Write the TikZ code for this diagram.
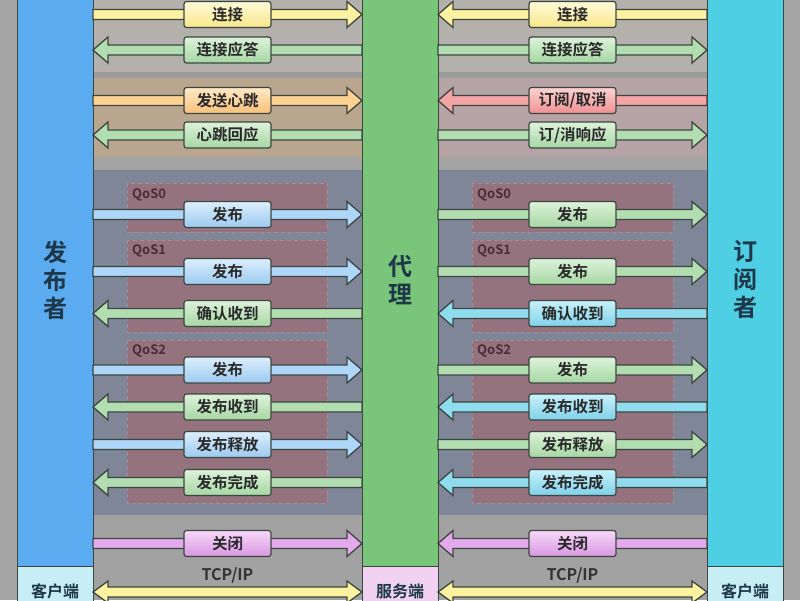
\documentclass[tikz,border=0pt]{standalone}
\usepackage{fontspec}
\setmainfont{Noto Sans CJK SC}[BoldFont={Noto Sans CJK SC Bold}]
\usetikzlibrary{calc}
\definecolor{stripgray}{HTML}{A6A6A6}
\definecolor{bandTop}{HTML}{B4B0AB}
\definecolor{bandSep}{HTML}{9C9C9C}
\definecolor{heatL}{HTML}{B9A68F}
\definecolor{heatR}{HTML}{B6A3A5}
\definecolor{bandSepB}{HTML}{A4A4A4}
\definecolor{slate}{HTML}{7E8698}
\definecolor{bandBot}{HTML}{A2A2A2}
\definecolor{qosfill}{HTML}{94727E}
\definecolor{qosline}{HTML}{AA8A96}
\definecolor{qostext}{HTML}{4E2A38}
\definecolor{outl}{HTML}{3C4640}
\definecolor{pubblue}{HTML}{5AABF0}
\definecolor{brkgreen}{HTML}{79C579}
\definecolor{subcyan}{HTML}{4FCFE3}
\definecolor{clicyan}{HTML}{C8EEF5}
\definecolor{srvpink}{HTML}{F2D2F2}
\definecolor{coltext}{HTML}{1E384A}
\definecolor{lbltext}{HTML}{2A2A2A}
\definecolor{tcptext}{HTML}{333333}
\definecolor{aY}{HTML}{FDF2A0}\definecolor{yT}{HTML}{FFFBDA}\definecolor{yB}{HTML}{F8E68A}
\definecolor{aG}{HTML}{B2DDB0}\definecolor{gT}{HTML}{DDF2DA}\definecolor{gB}{HTML}{A6D7A3}
\definecolor{aO}{HTML}{FCD192}\definecolor{oT}{HTML}{FFE9C6}\definecolor{oB}{HTML}{F9C07A}
\definecolor{aR}{HTML}{F4A4A4}\definecolor{rT}{HTML}{FCD2D2}\definecolor{rB}{HTML}{EF9090}
\definecolor{aB}{HTML}{ADD6F8}\definecolor{bT}{HTML}{DCEEFD}\definecolor{bB}{HTML}{9CCAF0}
\definecolor{aC}{HTML}{90DCEF}\definecolor{cT}{HTML}{C8F1FA}\definecolor{cB}{HTML}{7FD1EA}
\definecolor{aP}{HTML}{E4A8EC}\definecolor{pT}{HTML}{F7D8F9}\definecolor{pB}{HTML}{D796E0}
\newcommand\ArrR[3]{\filldraw[arr,fill=#3] ($(#1)+(0,-5)$) -- ($(#2)+(-15,-5)$) -- ($(#2)+(-15,-13)$) -- (#2) -- ($(#2)+(-15,13)$) -- ($(#2)+(-15,5)$) -- ($(#1)+(0,5)$) -- cycle;}
\newcommand\ArrL[3]{\filldraw[arr,fill=#3] ($(#2)+(0,-5)$) -- ($(#1)+(15,-5)$) -- ($(#1)+(15,-13)$) -- (#1) -- ($(#1)+(15,13)$) -- ($(#1)+(15,5)$) -- ($(#2)+(0,5)$) -- cycle;}
\newcommand\ArrB[3]{\filldraw[arr,fill=#3] ($(#1)+(15,-5)$) -- ($(#2)+(-15,-5)$) -- ($(#2)+(-15,-11)$) -- (#2) -- ($(#2)+(-15,11)$) -- ($(#2)+(-15,5)$) -- ($(#1)+(15,5)$) -- ($(#1)+(15,11)$) -- (#1) -- ($(#1)+(15,-11)$) -- cycle;}
\newcommand\RowPts[2]{\coordinate (#1a) at (93,#2); \coordinate (#1b) at (362,#2); \coordinate (#1c) at (438,#2); \coordinate (#1d) at (707,#2);}
\begin{document}
\begin{tikzpicture}[x=1pt,y=-1pt,
  arr/.style={draw=outl,line width=1.3pt,line join=miter},
  col/.style={draw=outl,line width=1.2pt,anchor=north west,inner sep=0pt},
  coltxt/.style={font=\fontsize{24}{28}\selectfont\bfseries,text=coltext,align=center},
  boxtxt/.style={font=\fontsize{16}{16}\selectfont\bfseries,text=coltext},
  lbl/.style={draw=outl,line width=1.2pt,rounded corners=2.5pt,minimum width=87pt,minimum height=26pt,inner sep=0pt,font=\fontsize{15.5}{15.5}\selectfont\bfseries,text=lbltext},
  lY/.style={lbl,top color=yT,bottom color=yB},
  lG/.style={lbl,top color=gT,bottom color=gB},
  lO/.style={lbl,top color=oT,bottom color=oB},
  lR/.style={lbl,top color=rT,bottom color=rB},
  lB/.style={lbl,top color=bT,bottom color=bB},
  lC/.style={lbl,top color=cT,bottom color=cB},
  lP/.style={lbl,top color=pT,bottom color=pB},
  qos/.style={fill=qosfill,draw=qosline,dashed,line width=1pt,dash pattern=on 4pt off 3pt},
  qostxt/.style={font=\fontsize{13}{13}\selectfont\bfseries,text=qostext,anchor=west,inner sep=0pt},
  tcp/.style={font=\fontsize{16}{16}\selectfont\bfseries,text=tcptext}]
\useasboundingbox (0,0) rectangle (800,600);
% outer strips
\fill[stripgray] (0,0) rectangle (17,600);
\fill[stripgray] (783,0) rectangle (800,600);
% bands
\foreach \xa/\xb/\hb in {93/362/heatL,438/707/heatR}{
  \fill[bandTop] (\xa,0) rectangle (\xb,72);
  \fill[bandSep] (\xa,72) rectangle (\xb,78);
  \fill[\hb] (\xa,78) rectangle (\xb,157);
  \fill[bandSepB] (\xa,157) rectangle (\xb,170);
  \fill[slate] (\xa,170) rectangle (\xb,515);
  \fill[bandBot] (\xa,515) rectangle (\xb,600);
}
% QoS areas
\draw[qos] (127,183) rectangle (327,232);
\draw[qos] (127,240) rectangle (327,332);
\draw[qos] (127,340) rectangle (327,503);
\draw[qos] (472,183) rectangle (673,232);
\draw[qos] (472,240) rectangle (673,332);
\draw[qos] (472,340) rectangle (673,503);
\node[qostxt] (q0l) at (132,195) {QoS0};
\node[qostxt] (q1l) at (132,251) {QoS1};
\node[qostxt] (q2l) at (132,351) {QoS2};
\node[qostxt] (q0r) at (477,195) {QoS0};
\node[qostxt] (q1r) at (477,251) {QoS1};
\node[qostxt] (q2r) at (477,351) {QoS2};
% columns
\node[col,fill=pubblue,minimum width=76pt,minimum height=567pt] (pub) at (17,-1) {};
\node[col,fill=brkgreen,minimum width=76pt,minimum height=567pt] (brk) at (362,-1) {};
\node[col,fill=subcyan,minimum width=76pt,minimum height=567pt] (sub) at (707,-1) {};
\node[col,fill=clicyan,minimum width=76pt,minimum height=40pt] (cl1) at (17,566) {};
\node[col,fill=srvpink,minimum width=76pt,minimum height=40pt] (srv) at (362,566) {};
\node[col,fill=clicyan,minimum width=76pt,minimum height=40pt] (cl2) at (707,566) {};
\node[coltxt] (pubt) at (55,280) {发\\布\\者};
\node[coltxt] (brkt) at (400,280) {代\\理};
\node[coltxt] (subt) at (745,279) {订\\阅\\者};
\node[boxtxt] (cl1t) at (55,591) {客户端};
\node[boxtxt] (srvt) at (400,591) {服务端};
\node[boxtxt] (cl2t) at (745,591) {客户端};
% rows
\RowPts{r1}{14.5}
\RowPts{r2}{50}
\RowPts{r3}{100.5}
\RowPts{r4}{135}
\RowPts{r5}{214.5}
\RowPts{r6}{271.5}
\RowPts{r7}{313.5}
\RowPts{r8}{370}
\RowPts{r9}{407}
\RowPts{r10}{444.5}
\RowPts{r11}{482.5}
\RowPts{r12}{543.5}
\RowPts{r13}{592}
% left side arrows
\ArrR{r1a}{r1b}{aY}
\ArrL{r2a}{r2b}{aG}
\ArrR{r3a}{r3b}{aO}
\ArrL{r4a}{r4b}{aG}
\ArrR{r5a}{r5b}{aB}
\ArrR{r6a}{r6b}{aB}
\ArrL{r7a}{r7b}{aG}
\ArrR{r8a}{r8b}{aB}
\ArrL{r9a}{r9b}{aG}
\ArrR{r10a}{r10b}{aB}
\ArrL{r11a}{r11b}{aG}
\ArrR{r12a}{r12b}{aP}
\ArrB{r13a}{r13b}{aY}
% right side arrows
\ArrL{r1c}{r1d}{aY}
\ArrR{r2c}{r2d}{aG}
\ArrL{r3c}{r3d}{aR}
\ArrR{r4c}{r4d}{aG}
\ArrR{r5c}{r5d}{aG}
\ArrR{r6c}{r6d}{aG}
\ArrL{r7c}{r7d}{aC}
\ArrR{r8c}{r8d}{aG}
\ArrL{r9c}{r9d}{aC}
\ArrR{r10c}{r10d}{aG}
\ArrL{r11c}{r11d}{aC}
\ArrL{r12c}{r12d}{aP}
\ArrB{r13c}{r13d}{aY}
% left labels
\node[lY] (l1) at ($(r1a)!0.5!(r1b)$) {连接};
\node[lG] (l2) at ($(r2a)!0.5!(r2b)$) {连接应答};
\node[lO] (l3) at ($(r3a)!0.5!(r3b)$) {发送心跳};
\node[lG] (l4) at ($(r4a)!0.5!(r4b)$) {心跳回应};
\node[lB] (l5) at ($(r5a)!0.5!(r5b)$) {发布};
\node[lB] (l6) at ($(r6a)!0.5!(r6b)$) {发布};
\node[lG] (l7) at ($(r7a)!0.5!(r7b)$) {确认收到};
\node[lB] (l8) at ($(r8a)!0.5!(r8b)$) {发布};
\node[lG] (l9) at ($(r9a)!0.5!(r9b)$) {发布收到};
\node[lB] (l10) at ($(r10a)!0.5!(r10b)$) {发布释放};
\node[lG] (l11) at ($(r11a)!0.5!(r11b)$) {发布完成};
\node[lP] (l12) at ($(r12a)!0.5!(r12b)$) {关闭};
\node[tcp] (l13) at (227.5,575) {TCP/IP};
% right labels
\node[lY] (m1) at ($(r1c)!0.5!(r1d)$) {连接};
\node[lG] (m2) at ($(r2c)!0.5!(r2d)$) {连接应答};
\node[lR] (m3) at ($(r3c)!0.5!(r3d)$) {订阅/取消};
\node[lG] (m4) at ($(r4c)!0.5!(r4d)$) {订/消响应};
\node[lG] (m5) at ($(r5c)!0.5!(r5d)$) {发布};
\node[lG] (m6) at ($(r6c)!0.5!(r6d)$) {发布};
\node[lC] (m7) at ($(r7c)!0.5!(r7d)$) {确认收到};
\node[lG] (m8) at ($(r8c)!0.5!(r8d)$) {发布};
\node[lC] (m9) at ($(r9c)!0.5!(r9d)$) {发布收到};
\node[lG] (m10) at ($(r10c)!0.5!(r10d)$) {发布释放};
\node[lC] (m11) at ($(r11c)!0.5!(r11d)$) {发布完成};
\node[lP] (m12) at ($(r12c)!0.5!(r12d)$) {关闭};
\node[tcp] (m13) at (572.5,575) {TCP/IP};
\end{tikzpicture}
\end{document}
